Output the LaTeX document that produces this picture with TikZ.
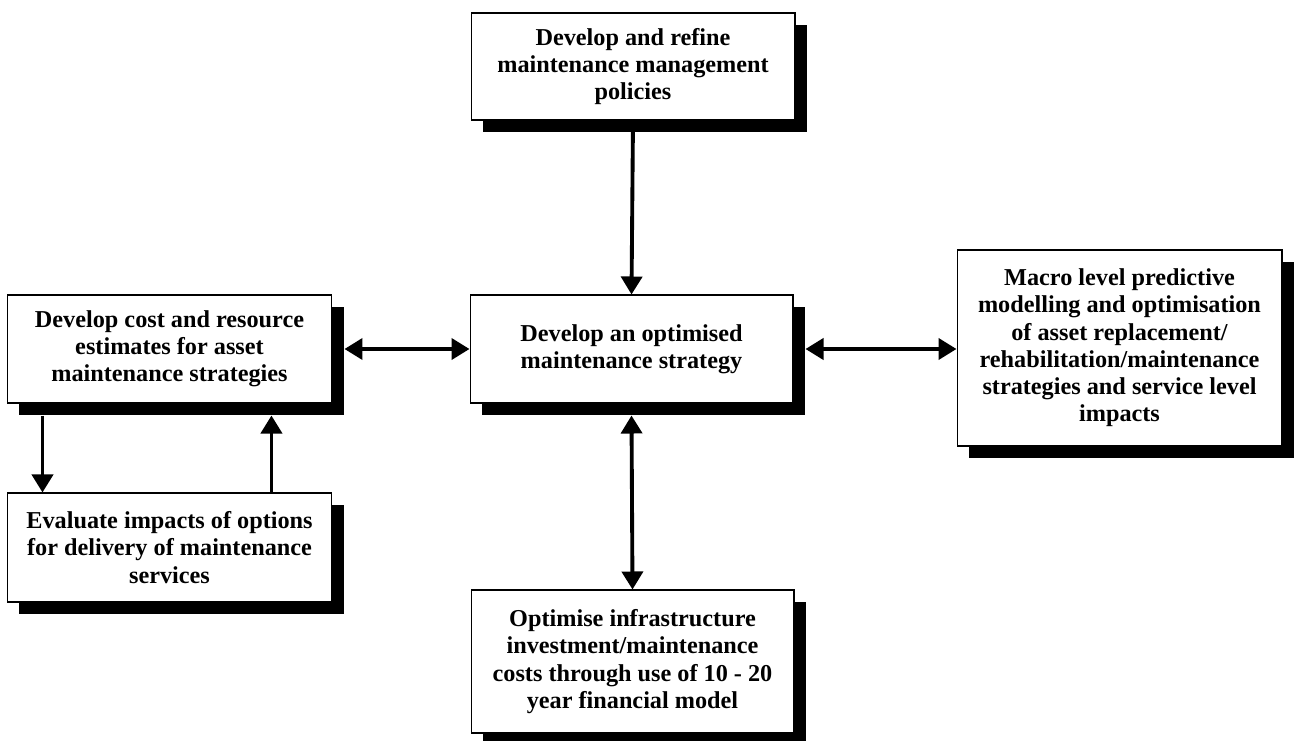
\documentclass[tikz,border=0pt]{standalone}
\usepackage{fontspec}
\setmainfont{Liberation Serif}
\usetikzlibrary{arrows.meta,shadows}
\begin{document}
\begin{tikzpicture}[x=0.02cm,y=-0.02cm,
  box/.style={draw=black, line width=0.6pt, fill=white, align=center, inner sep=0pt,
    font=\fontsize{13.8}{15.5}\selectfont\bfseries,
    drop shadow={shadow xshift=0.24cm, shadow yshift=-0.24cm, fill=black, opacity=1}},
  tip/.tip={Triangle[length=0.36cm,width=0.42cm]},
  oneway/.style={line width=2.2pt, -tip},
  twoway/.style={line width=2.2pt, tip-tip}]
\clip (0,0) rectangle (1294,740);
\fill[white] (0,0) rectangle (1294,740);

\node[box, minimum width=6.48cm, minimum height=2.14cm] (top) at (633,66.5)
  {Develop and refine\\maintenance management\\policies};
\node[box, minimum width=6.46cm, minimum height=2.16cm] (center) at (631.5,349)
  {Develop an optimised\\maintenance strategy};
\node[box, minimum width=6.5cm, minimum height=2.16cm] (left) at (169.5,349)
  {Develop cost and resource\\estimates for asset\\maintenance strategies};
\node[box, minimum width=6.5cm, minimum height=2.18cm] (lb) at (169.5,547.5)
  {Evaluate impacts of options\\for delivery of maintenance\\services};
\node[box, minimum width=6.5cm, minimum height=3.92cm] (right) at (1119.5,348)
  {Macro level predictive\\modelling and optimisation\\of asset replacement/\\rehabilitation/maintenance\\strategies and service level\\impacts};
\node[box, minimum width=6.46cm, minimum height=2.86cm] (bottom) at (632.5,661.5)
  {Optimise infrastructure\\investment/maintenance\\costs through use of 10 - 20\\year financial model};

\draw[oneway] (top.south) -- (center.north);
\draw[twoway] ([xshift=0.24cm]left.east) -- (center.west);
\draw[twoway] ([xshift=0.24cm]center.east) -- (center.east -| right.west);
\draw[twoway] ([yshift=-0.24cm]center.south) -- (bottom.north);
\draw[oneway] ([xshift=0.72cm,yshift=-0.24cm]left.south west) -- ([xshift=0.72cm]lb.north west);
\draw[oneway] ([xshift=5.3cm]lb.north west) -- ([xshift=5.3cm,yshift=-0.24cm]left.south west);
\end{tikzpicture}
\end{document}
